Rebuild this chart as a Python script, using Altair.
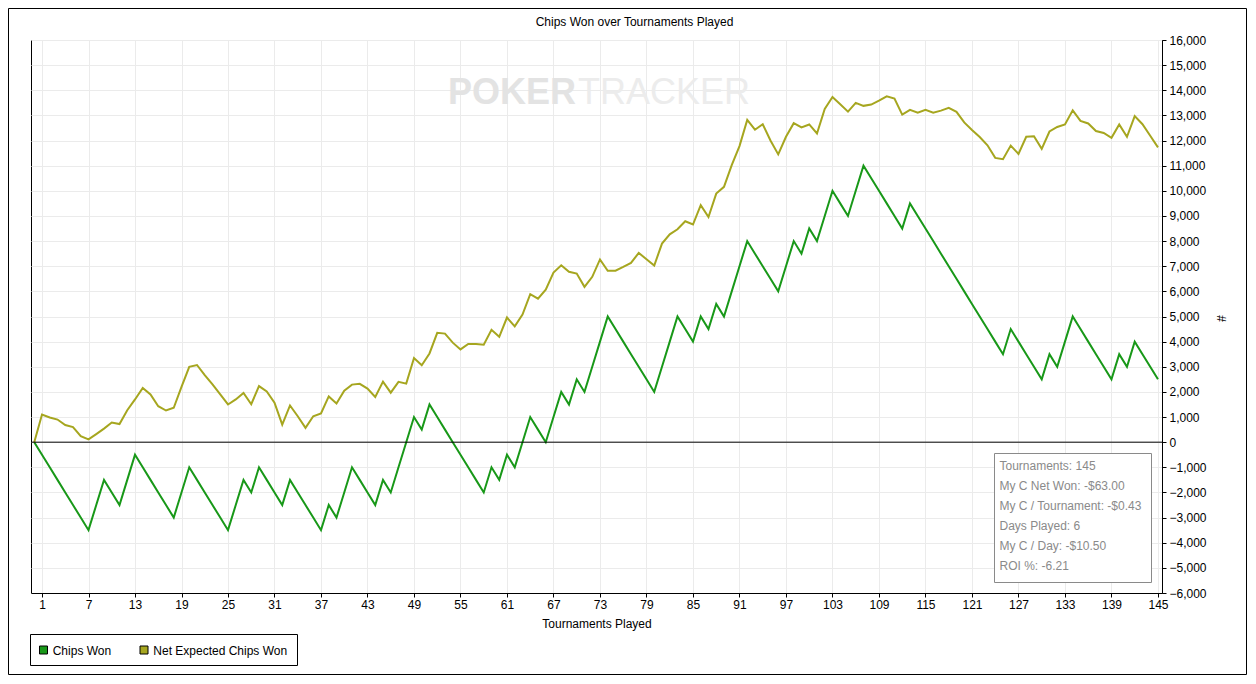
import altair as alt
import pandas as pd

# ---------------- data ----------------
tournaments = list(range(0, 146))

chips_won = [
    0, -500, -1000, -1500, -2000, -2500, -3000, -3500, -2500, -1500,
    -2000, -2500, -1500, -500, -1000, -1500, -2000, -2500, -3000, -2000,
    -1000, -1500, -2000, -2500, -3000, -3500, -2500, -1500, -2000, -1000,
    -1500, -2000, -2500, -1500, -2000, -2500, -3000, -3500, -2500, -3000,
    -2000, -1000, -1500, -2000, -2500, -1500, -2000, -1000, 0, 1000,
    500, 1500, 1000, 500, 0, -500, -1000, -1500, -2000, -1000,
    -1500, -500, -1000, 0, 1000, 500, 0, 1000, 2000, 1500,
    2500, 2000, 3000, 4000, 5000, 4500, 4000, 3500, 3000, 2500,
    2000, 3000, 4000, 5000, 4500, 4000, 5000, 4500, 5500, 5000,
    6000, 7000, 8000, 7500, 7000, 6500, 6000, 7000, 8000, 7500,
    8500, 8000, 9000, 10000, 9500, 9000, 10000, 11000, 10500, 10000,
    9500, 9000, 8500, 9500, 9000, 8500, 8000, 7500, 7000, 6500,
    6000, 5500, 5000, 4500, 4000, 3500, 4500, 4000, 3500, 3000,
    2500, 3500, 3000, 4000, 5000, 4500, 4000, 3500, 3000, 2500,
    3500, 3000, 4000, 3500, 3000, 2500,
]

net_expected = [
    0, 1100, 980, 900, 680, 600, 240, 110, 320, 540,
    780, 720, 1270, 1700, 2160, 1900, 1430, 1260, 1370, 2200,
    3000, 3070, 2670, 2300, 1900, 1500, 1700, 1960, 1510, 2230,
    2020, 1570, 700, 1460, 1030, 570, 1030, 1140, 1820, 1540,
    2050, 2290, 2320, 2130, 1800, 2410, 1970, 2400, 2330, 3350,
    3060, 3530, 4350, 4320, 3960, 3690, 3910, 3910, 3880, 4470,
    4190, 4960, 4610, 5080, 5890, 5710, 6070, 6750, 7040, 6780,
    6710, 6180, 6580, 7270, 6820, 6820, 6970, 7130, 7530, 7280,
    7030, 7900, 8270, 8470, 8790, 8660, 9430, 8960, 9890, 10160,
    11020, 11780, 12820, 12430, 12650, 12000, 11450, 12150, 12690, 12520,
    12640, 12280, 13260, 13730, 13440, 13150, 13500, 13380, 13430, 13590,
    13760, 13670, 13030, 13220, 13110, 13220, 13110, 13190, 13300, 13140,
    12720, 12420, 12140, 11810, 11310, 11260, 11800, 11470, 12150, 12170,
    11670, 12360, 12540, 12640, 13200, 12780, 12680, 12380, 12300, 12110,
    12640, 12150, 12970, 12650, 12190, 11730,
]

series_names = ["Chips Won", "Net Expected Chips Won"]
series_colors = ["#189818", "#a6a61f"]
x_ticks = list(range(1, 146, 6))
y_ticks = list(range(-6000, 16001, 1000))
stats_lines = [
    "Tournaments: 145",
    "My C Net Won: -$63.00",
    "My C / Tournament: -$0.43",
    "Days Played: 6",
    "My C / Day: -$10.50",
    "ROI %: -6.21",
]
title_text = "Chips Won over Tournaments Played"
x_title = "Tournaments Played"
y_title = "#"
watermark = ["POKER", "TRACKER"]

# ---------------- layout ----------------
W, H = 1131, 553
FONT = "Liberation Sans"

n = len(tournaments)
df = pd.DataFrame({
    "t": tournaments * 2,
    "value": chips_won + net_expected,
    "series": [series_names[0]] * n + [series_names[1]] * n,
})

color_scale = alt.Scale(domain=series_names, range=series_colors)
y_scale = alt.Scale(domain=[-6000, 16000], nice=False, zero=False)
y_axis = alt.Axis(
    orient="right", values=y_ticks, format=",d", grid=True, gridColor="#ebebeb",
    domainColor="black", tickColor="black", tickSize=4, labelFont=FONT,
    labelFontSize=12, labelColor="black", labelPadding=3, labelOverlap=False,
    labelFlush=False, title=y_title, titleFont=FONT, titleFontSize=12,
    titleFontWeight="normal", titleColor="black", titleAngle=90, titleX=58,
    titleY=278, titleAlign="center", titleBaseline="middle",
)

x_enc = alt.X(
    "t:Q",
    scale=alt.Scale(domain=[-0.42, 145.52], nice=False, zero=False),
    axis=alt.Axis(
        values=x_ticks, grid=True, gridColor="#ebebeb", domainColor="black",
        tickColor="black", tickSize=4, labelFont=FONT, labelFontSize=12,
        labelColor="black", labelPadding=2, labelFlush=False, labelOverlap=False,
        title=x_title, titleFont=FONT, titleFontSize=12, titleFontWeight="normal",
        titleColor="black", titleY=30, titleBaseline="middle",
    ),
)

lines = alt.Chart(df).mark_line(strokeWidth=2).encode(
    x=x_enc, y=alt.Y("value:Q", scale=y_scale, axis=y_axis),
    color=alt.Color("series:N", scale=color_scale, legend=None),
)

zero_rule = alt.Chart(pd.DataFrame({"value": [0]})).mark_rule(color="black", strokeWidth=1).encode(
    y=alt.Y("value:Q", scale=y_scale, axis=y_axis)
)

wm1 = alt.Chart(pd.DataFrame({"w": [watermark[0]]})).mark_text(
    font=FONT, fontSize=36, fontWeight="bold", color="#e3e3e3", align="left", baseline="alphabetic"
).encode(x=alt.value(417), y=alt.value(64), text="w:N")
wm2 = alt.Chart(pd.DataFrame({"w": [watermark[1]]})).mark_text(
    font=FONT, fontSize=36, color="#ececec", align="left", baseline="alphabetic"
).encode(x=alt.value(547), y=alt.value(64), text="w:N")

title = alt.Chart(pd.DataFrame({"s": [title_text]})).mark_text(
    font=FONT, fontSize=12, color="black", align="center", baseline="middle"
).encode(x=alt.value(603.5), y=alt.value(-18), text="s:N")

# stats box
stats_box = alt.Chart(pd.DataFrame({"k": [0]})).mark_rect(
    fill="white", stroke="#8a8a8a", strokeWidth=1
).encode(x=alt.value(963.5), x2=alt.value(1120.5), y=alt.value(413.5), y2=alt.value(542.5))
stats_df = pd.DataFrame({"line": stats_lines, "i": list(range(len(stats_lines)))})
stats_text = alt.Chart(stats_df).transform_calculate(
    py="425.7 + 20 * datum.i"
).mark_text(
    font=FONT, fontSize=12, color="#8a8a8a", align="left", baseline="middle"
).encode(x=alt.value(968.5), y=alt.Y("py:Q", scale=None, axis=None), text="line:N")

# legend
leg_box = alt.Chart(pd.DataFrame({"k": [0]})).mark_rect(
    fill="white", stroke="black", strokeWidth=1
).encode(x=alt.value(-0.5), x2=alt.value(266.5), y=alt.value(594.5), y2=alt.value(625.5))
leg_df = pd.DataFrame({"series": series_names, "i": [0, 1]})
leg_sq = alt.Chart(leg_df).transform_calculate(
    px="8.5 + 100.5 * datum.i", px2="16.5 + 100.5 * datum.i"
).mark_rect(stroke="black", strokeWidth=1).encode(
    x=alt.X("px:Q", scale=None, axis=None), x2="px2:Q",
    y=alt.value(606), y2=alt.value(614),
    fill=alt.Color("series:N", scale=color_scale, legend=None),
)
leg_txt = alt.Chart(leg_df).transform_calculate(
    px="21.7 + 100.6 * datum.i"
).mark_text(font=FONT, fontSize=12, color="black", align="left", baseline="middle").encode(
    x=alt.X("px:Q", scale=None, axis=None), y=alt.value(610.5), text="series:N"
)

outer = alt.Chart(pd.DataFrame({"k": [0]})).mark_rect(
    filled=False, stroke="black", strokeWidth=1
).encode(x=alt.value(-22.5), x2=alt.value(1215.5), y=alt.value(-31.5), y2=alt.value(634.5))

chart = alt.layer(
    wm1, wm2, lines, zero_rule, stats_box, stats_text, title, leg_box, leg_sq, leg_txt, outer
).properties(
    width=W, height=H,
    padding={"left": 23, "top": 32, "right": 86, "bottom": 83},
    autosize=alt.AutoSizeParams(type="none"),
    background="white",
).configure_view(stroke="black", strokeWidth=1)

chart.save("out.html", embed_options={"renderer": "svg", "actions": False})
